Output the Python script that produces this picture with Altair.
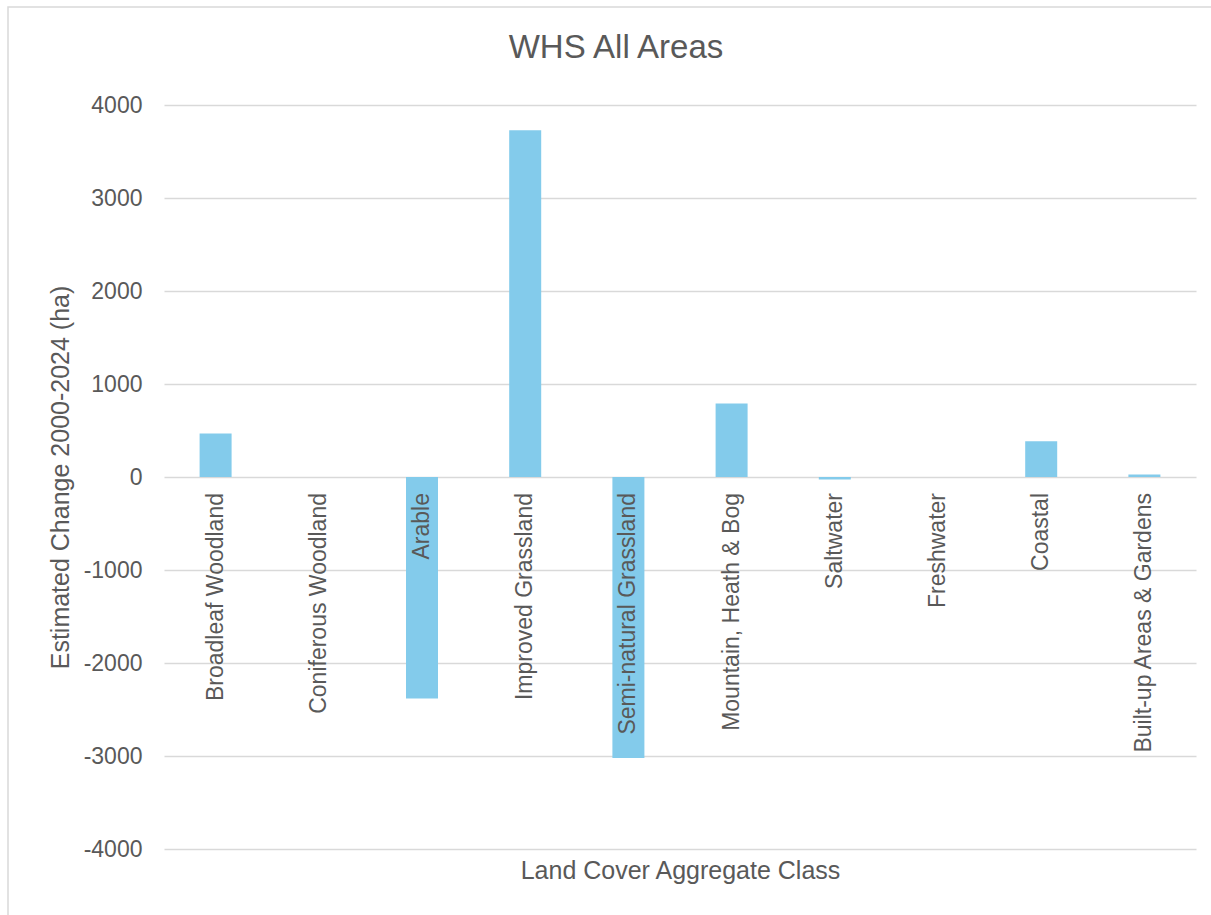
import altair as alt
import pandas as pd

# Land cover aggregate classes and estimated change (ha), 2000-2024
categories = [
    "Broadleaf Woodland",
    "Coniferous Woodland",
    "Arable",
    "Improved Grassland",
    "Semi-natural Grassland",
    "Mountain, Heath & Bog",
    "Saltwater",
    "Freshwater",
    "Coastal",
    "Built-up Areas & Gardens",
]
change_ha = [467, 0, -2383, 3728, -3021, 789, -28, 0, 384, 26]

y_ticks = [-4000, -3000, -2000, -1000, 0, 1000, 2000, 3000, 4000]

FONT = "Liberation Sans"
TEXT = "#595959"
GRID = "#d9d9d9"
BAR = "#83CBEB"

df = pd.DataFrame({"category": categories, "change": change_ha})

x_enc = alt.X(
    "category:N",
    sort=categories,
    scale=alt.Scale(paddingInner=0, paddingOuter=0),
    axis=alt.Axis(
        labels=False,
        ticks=False,
        domain=False,
        grid=False,
        title="Land Cover Aggregate Class",
        titleFont=FONT,
        titleFontSize=25,
        titleFontWeight="normal",
        titleColor=TEXT,
        titleBaseline="alphabetic",
        titleY=29,
    ),
)

y_axis = alt.Axis(
    values=y_ticks,
    labelExpr="'' + datum.value",  # plain hyphen for negatives
    grid=True,
    gridColor=GRID,
    gridWidth=1.5,
    domain=False,
    ticks=False,
    labelFont=FONT,
    labelFontSize=23,
    labelColor=TEXT,
    labelPadding=22,
    title="Estimated Change 2000-2024 (ha)",
    titleFont=FONT,
    titleFontSize=25,
    titleFontWeight="normal",
    titleColor=TEXT,
    titleAngle=270,
    titleAlign="center",
    titleBaseline="alphabetic",
    titleX=-96,
    titleY=372,
)

y_scale = alt.Scale(domain=[-4000, 4000], nice=False, zero=True)

bars = alt.Chart(df).mark_bar(color=BAR, size=32).encode(
    x=x_enc,
    y=alt.Y("change:Q", scale=y_scale, axis=y_axis),
)

# Category names hang just below the zero line, reading upward
labels = alt.Chart(df).mark_text(
    angle=270,
    align="right",
    baseline="middle",
    yOffset=16,
    font=FONT,
    fontSize=23,
    color=TEXT,
).encode(
    x=alt.X("category:N", sort=categories),
    y=alt.YDatum(0),
    text="category:N",
)

# Thin outline around the chart area
frame = alt.Chart(pd.DataFrame({"k": [0]})).mark_rect(
    filled=False, stroke=GRID, strokeWidth=1.5
).encode(
    x=alt.value(-156),
    x2=alt.value(1052),
    y=alt.value(-98),
    y2=alt.value(815),
)

chart = (
    alt.layer(bars, labels, frame)
    .properties(
        width=1032,
        height=744,
        autosize="none",
        padding={"left": 164, "top": 105, "right": 15, "bottom": 66},
        background="white",
        title=alt.TitleParams(
            "WHS All Areas",
            font=FONT,
            fontSize=33,
            fontWeight="normal",
            color=TEXT,
            anchor="middle",
            frame="group",
            baseline="alphabetic",
            offset=0,
            dx=-64,
            dy=85,
        ),
    )
    .configure_view(strokeWidth=0)
)

chart.save("out.html", embed_options={"renderer": "svg", "actions": False})
